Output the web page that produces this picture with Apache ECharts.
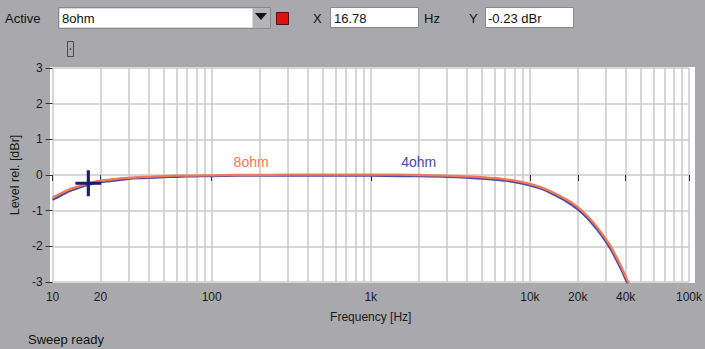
<!DOCTYPE html>
<html>
<head>
<meta charset="utf-8">
<script src="https://cdn.jsdelivr.net/npm/echarts@6/dist/echarts.min.js"></script>
<style>
html,body{margin:0;padding:0;background:#a9a9ad;}
#chart{width:705px;height:349px;}
</style>
</head>
<body>
<div id="chart"></div>
<script>
// ---- data ----
const seriesNames = ['8ohm', '4ohm'];
const freqs = [10, 11, 12, 13, 14, 15, 16.78, 18, 20, 23, 26, 30, 35, 40, 50, 60, 70, 85, 100, 150, 200, 300, 500, 700, 1000, 1500, 2000, 3000, 4000, 5000, 6000, 7000, 8500, 10000, 12000, 14000, 17000, 20000, 23000, 26000, 29000, 32000, 35000, 38000, 41000, 42000];
const level8ohm = [-0.63, -0.54, -0.46, -0.39, -0.34, -0.3, -0.23, -0.2, -0.16, -0.13, -0.1, -0.08, -0.06, -0.05, -0.03, -0.02, -0.02, -0.01, -0.01, 0.0, 0.0, 0.01, 0.01, 0.01, 0.01, 0.01, 0.0, -0.02, -0.04, -0.06, -0.09, -0.12, -0.18, -0.25, -0.36, -0.49, -0.69, -0.9, -1.15, -1.42, -1.7, -1.98, -2.3, -2.62, -2.95, -3.05];
const level4ohm = [-0.69, -0.6, -0.51, -0.44, -0.39, -0.34, -0.27, -0.24, -0.2, -0.17, -0.14, -0.11, -0.09, -0.08, -0.06, -0.05, -0.04, -0.03, -0.03, -0.02, -0.02, -0.02, -0.02, -0.02, -0.02, -0.03, -0.03, -0.05, -0.07, -0.1, -0.13, -0.16, -0.22, -0.29, -0.4, -0.54, -0.74, -0.96, -1.21, -1.49, -1.77, -2.06, -2.38, -2.7, -3.04, -3.14];
const cursorPoint = [16.78, -0.23];
const xTickValues = [10, 20, 100, 1000, 10000, 20000, 40000, 100000];
const xTickLabels = ['10', '20', '100', '1k', '10k', '20k', '40k', '100k'];
const gridFreqs = [10,20,30,40,50,60,70,80,90,100,200,300,400,500,600,700,800,900,1000,2000,3000,4000,5000,6000,7000,8000,9000,10000,20000,30000,40000,50000,60000,70000,80000,90000,100000];
const yTicks = [-3, -2, -1, 0, 1, 2, 3];

const FONT = '"Liberation Sans", Arial, sans-serif';
const ORANGE = '#f07a55';
const BLUE = '#4a4aa8';

const pairs = (xs, ys) => xs.map((x, i) => [x, ys[i]]);

const chart = echarts.init(document.getElementById('chart'), null, {renderer: 'svg'});

const option = {
  backgroundColor: '#a9a9ad',
  animation: false,
  textStyle: {fontFamily: FONT},
  grid: {left: 51, right: 13, top: 68, bottom: 67, containLabel: false},
  xAxis: [
    {
      type: 'log', logBase: 10, min: 10, max: 100000,
      name: 'Frequency [Hz]', nameLocation: 'middle', nameGap: 29,
      nameTextStyle: {fontSize: 12, color: '#1a1a1a', fontFamily: FONT},
      axisLine: {show: false},
      axisTick: {show: true, length: 6, customValues: xTickValues, lineStyle: {color: '#333', width: 1}},
      axisLabel: {
        customValues: xTickValues, margin: 9, fontSize: 12, color: '#1a1a1a', fontFamily: FONT,
        formatter: v => { const i = xTickValues.findIndex(t => Math.abs(t - v) / t < 1e-6); return i >= 0 ? xTickLabels[i] : ''; }
      },
      splitLine: {show: false}
    },
    {
      type: 'log', logBase: 10, min: 10, max: 100000, position: 'bottom',
      axisLine: {show: false},
      axisTick: {show: false, customValues: gridFreqs},
      axisLabel: {show: false},
      splitLine: {show: true, lineStyle: {color: '#c9c9c9', width: 1.5}}
    }
  ],
  yAxis: {
    type: 'value', min: -3, max: 3, interval: 1,
    name: 'Level rel. [dBr]', nameLocation: 'middle', nameGap: 27,
    nameTextStyle: {fontSize: 12.5, color: '#1a1a1a', fontFamily: FONT},
    axisLine: {show: false},
    axisTick: {show: true, length: 7, lineStyle: {color: '#333', width: 1}},
    axisLabel: {margin: 10, fontSize: 12, color: '#1a1a1a', fontFamily: FONT},
    splitLine: {show: true, lineStyle: {color: '#c9c9c9', width: 1.5}}
  },
  graphic: [
    {type: 'rect', z: -10, silent: true, shape: {x: 50, y: 67, width: 645, height: 216}, style: {fill: '#ffffff'}},
    // toolbar
    {type: 'text', x: 5, y: 18, style: {text: 'Active', font: '13px ' + FONT, fill: '#111', verticalAlign: 'middle'}},
    {type: 'rect', shape: {x: 58.5, y: 7.5, width: 212, height: 21}, style: {fill: '#b4b4b8', stroke: '#8a8a8e', lineWidth: 1}},
    {type: 'rect', shape: {x: 59.5, y: 8.5, width: 193, height: 19}, style: {fill: '#ffffff'}},
    {type: 'text', x: 62, y: 18, style: {text: seriesNames[0], font: '13px ' + FONT, fill: '#111', verticalAlign: 'middle'}},
    {type: 'polygon', shape: {points: [[255, 13], [267, 13], [261, 20]]}, style: {fill: '#111'}},
    {type: 'rect', shape: {x: 276.5, y: 12.5, width: 12, height: 12}, style: {fill: '#e01212', stroke: '#5a1010', lineWidth: 1}},
    {type: 'text', x: 313, y: 18, style: {text: 'X', font: '13px ' + FONT, fill: '#111', verticalAlign: 'middle'}},
    {type: 'rect', shape: {x: 330.5, y: 7.5, width: 88, height: 20}, style: {fill: '#ffffff', stroke: '#8a8a8e', lineWidth: 1}},
    {type: 'text', x: 334, y: 18, style: {text: '16.78', font: '13px ' + FONT, fill: '#111', verticalAlign: 'middle'}},
    {type: 'text', x: 424, y: 18, style: {text: 'Hz', font: '13px ' + FONT, fill: '#111', verticalAlign: 'middle'}},
    {type: 'text', x: 469, y: 18, style: {text: 'Y', font: '13px ' + FONT, fill: '#111', verticalAlign: 'middle'}},
    {type: 'rect', shape: {x: 485.5, y: 7.5, width: 88, height: 20}, style: {fill: '#ffffff', stroke: '#8a8a8e', lineWidth: 1}},
    {type: 'text', x: 488, y: 18, style: {text: '-0.23 dBr', font: '13px ' + FONT, fill: '#111', verticalAlign: 'middle'}},
    {type: 'rect', shape: {x: 67.5, y: 41.5, width: 6, height: 15}, style: {fill: 'none', stroke: '#4a4a4a', lineWidth: 1}},
    {type: 'circle', shape: {cx: 70.5, cy: 49, r: 0.9}, style: {fill: '#4a4a4a'}},
    {type: 'text', x: 28, y: 339, style: {text: 'Sweep ready', font: '13px ' + FONT, fill: '#111', verticalAlign: 'middle'}}
  ],
  series: [
    {
      name: seriesNames[1], type: 'line', xAxisIndex: 0, data: pairs(freqs, level4ohm),
      showSymbol: false, smooth: 0.2, z: 3,
      lineStyle: {color: BLUE, width: 2.3},
      markPoint: {
        symbol: 'circle', symbolSize: 0, silent: true,
        label: {show: true, position: 'inside', formatter: seriesNames[1], color: '#4a4aa0', fontSize: 14, fontFamily: FONT},
        data: [{coord: [2000, 0.36]}]
      }
    },
    {
      name: seriesNames[0], type: 'line', xAxisIndex: 0, data: pairs(freqs, level8ohm),
      showSymbol: false, smooth: 0.2, z: 4,
      lineStyle: {color: ORANGE, width: 2.3},
      markPoint: {
        symbol: 'circle', symbolSize: 0, silent: true,
        label: {show: true, position: 'inside', formatter: seriesNames[0], color: '#f07a55', fontSize: 14, fontFamily: FONT},
        data: [{coord: [177, 0.36]}]
      }
    },
    {
      name: 'cursor', type: 'scatter', xAxisIndex: 0, data: [cursorPoint], z: 6, silent: true,
      symbol: 'path://M11,0h3v11h11v3h-11v11h-3v-11h-11v-3h11z', symbolSize: [26, 26],
      itemStyle: {color: '#1c1c6e', opacity: 1}
    }
  ]
};
chart.setOption(option);
</script>
</body>
</html>
